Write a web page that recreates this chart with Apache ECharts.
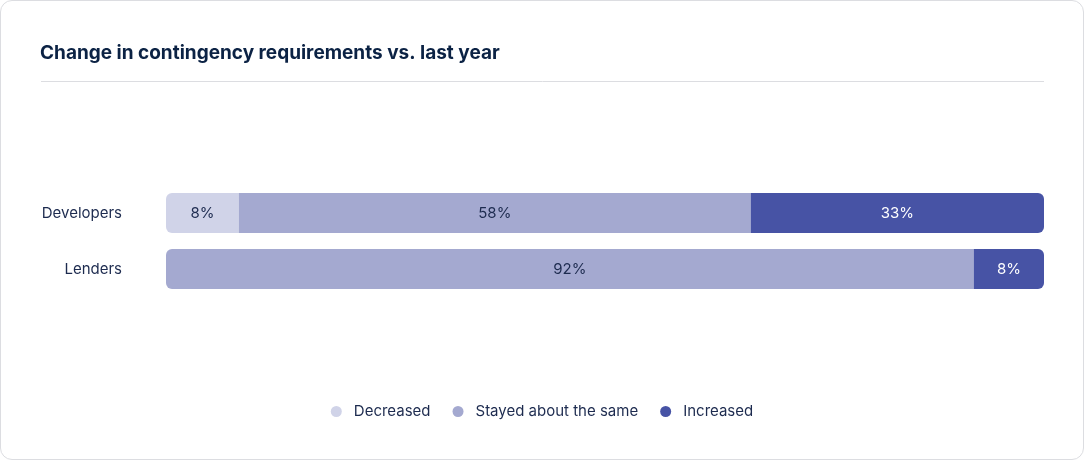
<!DOCTYPE html>
<html>
<head>
<meta charset="utf-8">
<script src="https://cdn.jsdelivr.net/npm/echarts@6/dist/echarts.min.js"></script>
<style>
  html, body { margin: 0; padding: 0; background: #fff; }
  #card {
    position: absolute; left: 0; top: 0;
    width: 1082px; height: 458px;
    border: 1px solid #dcdde1; border-radius: 12px;
    overflow: hidden; background: #fff;
  }
  #chart { width: 1082px; height: 458px; }
</style>
</head>
<body>
<div id="card"><div id="chart"></div></div>
<script>
var categories = ['Developers', 'Lenders']
var seriesNames = ['Decreased', 'Stayed about the same', 'Increased']
var decreased = [8.3, 0]
var stayed = [58.3, 92]
var increased = [33.4, 8]
var colors = ['#d0d3e8', '#a4a9d0', '#4753a5']
var labelColors = ['#1d2b4f', '#1d2b4f', '#ffffff']

var allValues = [decreased, stayed, increased]
var radius = 6

// round only the outer ends of each stacked row
function buildData (idx) {
  return allValues[idx].map(function (v, row) {
    var nonZero = []
    allValues.forEach(function (arr, s) { if (arr[row] > 0) nonZero.push(s) })
    var first = nonZero[0]
    var last = nonZero[nonZero.length - 1]
    var r = [0, 0, 0, 0]
    if (idx === first) { r[0] = radius; r[3] = radius }
    if (idx === last) { r[1] = radius; r[2] = radius }
    return { value: v > 0 ? v : '-', itemStyle: { borderRadius: r } }
  })
}

var chart = echarts.init(document.getElementById('chart'))
chart.setOption({
  textStyle: { fontFamily: 'Inter, "Noto Sans", sans-serif' },
  title: {
    text: 'Change in contingency requirements vs. last year',
    left: 34,
    top: 38,
    textStyle: { fontSize: 19, fontWeight: 'bold', color: '#0b2244', fontFamily: 'Inter, "Noto Sans", sans-serif' }
  },
  graphic: [{
    type: 'line',
    shape: { x1: 40, y1: 80.5, x2: 1043, y2: 80.5 },
    style: { stroke: '#dcdde1', lineWidth: 1 }
  }],
  legend: {
    bottom: 35,
    left: 'center',
    icon: 'circle',
    itemWidth: 11,
    itemHeight: 11,
    itemGap: 22,
    textStyle: { fontSize: 15, color: '#1d2b4f', padding: [0, 0, 0, 7] },
    data: seriesNames
  },
  grid: { left: 165, right: 39, top: 184, height: 112, containLabel: false },
  xAxis: { type: 'value', min: 0, max: 100, show: false },
  yAxis: {
    type: 'category',
    inverse: true,
    data: categories,
    axisLine: { show: false },
    axisTick: { show: false },
    axisLabel: { margin: 44, fontSize: 15, color: '#1d2b4f' }
  },
  series: seriesNames.map(function (name, i) {
    return {
      name: name,
      type: 'bar',
      stack: 'total',
      barWidth: 40,
      itemStyle: { color: colors[i] },
      label: {
        show: true,
        position: 'inside',
        fontSize: 15,
        color: labelColors[i],
        formatter: function (p) { return Math.round(p.value) + '%' }
      },
      data: buildData(i)
    }
  })
})
</script>
</body>
</html>
